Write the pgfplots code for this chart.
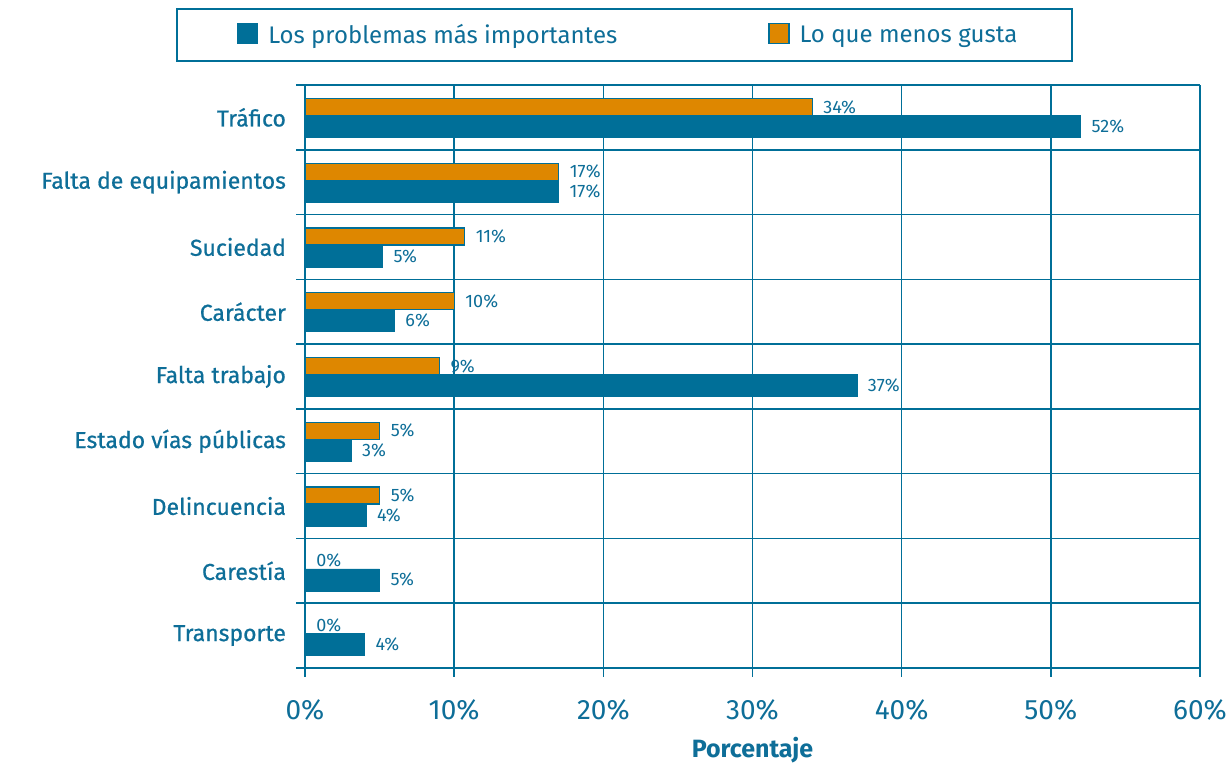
\documentclass[border=0pt]{standalone}
\usepackage{fontspec}
\setmainfont{Fira Sans}
\newfontfamily\medfont{Fira Sans}[FakeBold=0.7]
\usepackage{pgfplots}
\usepackage{pgfplotstable}
\pgfplotsset{compat=1.18}

\definecolor{azul}{HTML}{006F98}
\definecolor{naranja}{HTML}{DE8700}
\definecolor{texto}{HTML}{0E6E98}

% pos: 8 = Tráfico (arriba) ... 0 = Transporte (abajo)
\pgfplotstableread{
pos problemas gusta lp lg
8 52   34   52 34
7 17   17   17 17
6 5.2  10.7 5  11
5 6    10   6  10
4 37   9    37 9
3 3.1  5    3  5
2 4.1  5    4  5
1 5    0    5  0
0 4    0    4  0
}\datos

\begin{document}
\begin{tikzpicture}
\begin{axis}[
  name=ax,
  scale only axis, width=447.5pt, height=291.5pt,
  xbar,
  xmin=0, xmax=60, ymin=-0.5, ymax=8.5,
  axis x line=bottom, axis y line=left,
  axis line style={-, line width=1.4pt, color=azul},
  xtick={0,10,...,60},
  xticklabel={\pgfmathprintnumber{\tick}\%},
  /pgf/number format/assume math mode=true,
  xticklabel style={font=\fontsize{14}{16}\selectfont, color=texto, yshift=-8pt},
  ytick={-0.5,0.5,...,8.5},
  yticklabels={{},{},{},{},{},{},{},{},{},{}},
  extra y ticks={0,...,8},
  extra y tick labels={Transporte,Carestía,Delincuencia,Estado vías públicas,Falta trabajo,Carácter,Suciedad,Falta de equipamientos,Tráfico},
  extra y tick style={grid=none, major tick length=0pt,
    yticklabel style={font=\fontsize{11.5}{13}\selectfont\medfont, color=texto, xshift=-6pt}},
  tick align=outside, major tick length=4.5pt,
  tick style={color=azul, line width=0.8pt},
  grid=major, grid style={color=azul, line width=0.8pt},
  xlabel={Porcentaje},
  xlabel style={font=\fontsize{12.5}{14}\selectfont\bfseries, color=texto, yshift=-1.5pt},
  point meta=explicit symbolic,
  nodes near coords={\pgfplotspointmeta\%},
  every node near coord/.append style={font=\fontsize{9}{10}\selectfont, color=texto, anchor=west, xshift=2pt},
  legend columns=2,
  legend style={at={(-0.144,1.132)}, anchor=north west, draw=azul, line width=1pt,
    inner xsep=30pt, inner ysep=7pt, column sep=0pt,
    nodes={inner sep=0pt},
    font=\fontsize{12}{14}\selectfont, text=texto,
    /tikz/every odd column/.append style={column sep=5pt}},
  legend image code/.code={\draw[#1, draw=azul, line width=0.6pt] (0pt,-4pt) rectangle (10pt,6pt);},
]
\addplot[fill=azul, draw=azul, line width=0.3pt, bar width=0.34, bar shift=-0.139]
  table[x=problemas, y=pos, meta=lp] {\datos};
\addlegendentry{\makebox[250pt][l]{Los problemas más importantes}}
\addplot[fill=naranja, draw=azul, line width=0.6pt, bar width=0.262, bar shift=0.162]
  table[x=gusta, y=pos, meta=lg] {\datos};
\addlegendentry{\makebox[106pt][l]{Lo que menos gusta}}
\end{axis}
\pgfresetboundingbox
\path[use as bounding box] ([shift={(-152.5pt,-49pt)}]ax.south west) rectangle ([shift={(16pt,42.5pt)}]ax.north east);
\end{tikzpicture}
\end{document}
